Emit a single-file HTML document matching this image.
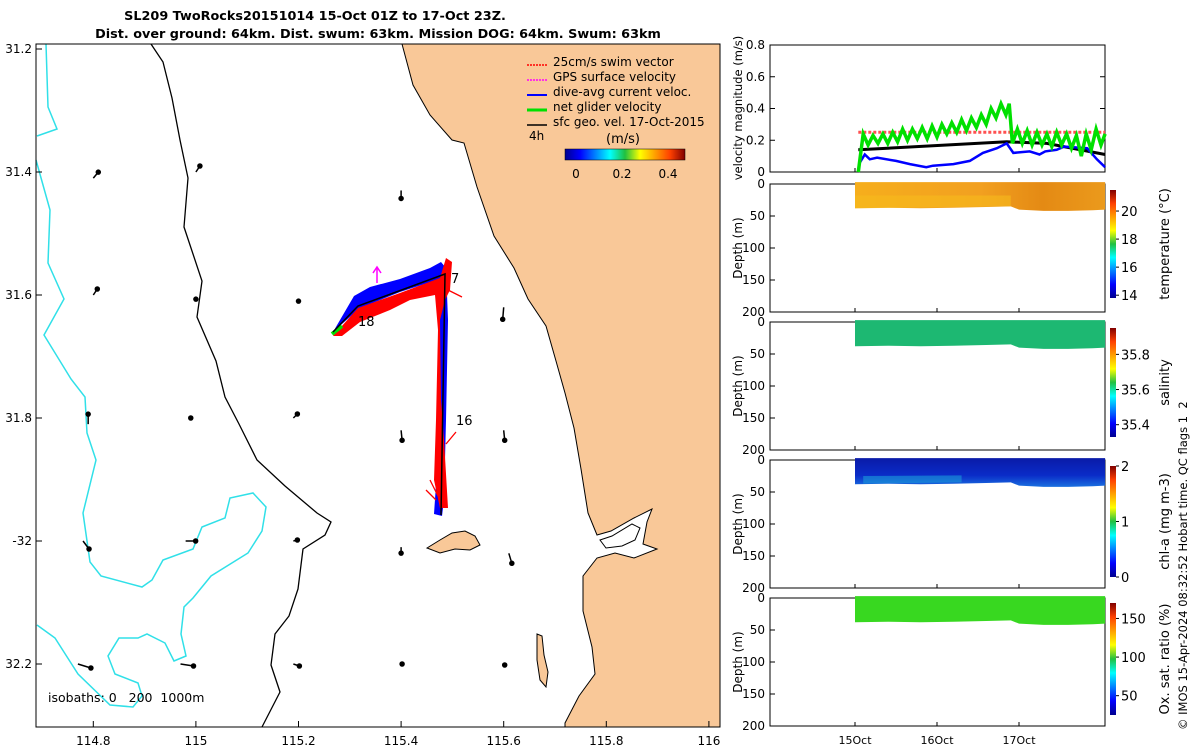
<!DOCTYPE html>
<html><head><meta charset="utf-8"><style>
body{margin:0;background:#fff;}
svg{display:block;font-family:"DejaVu Sans","Liberation Sans",sans-serif;}
</style></head><body>
<svg id="root" width="1200" height="750" viewBox="0 0 1200 750">
<defs>
<linearGradient id="jetV" x1="0" y1="1" x2="0" y2="0">
<stop offset="0" stop-color="#00008f"/><stop offset="0.125" stop-color="#0000ff"/><stop offset="0.375" stop-color="#00ffff"/><stop offset="0.5" stop-color="#20c040"/><stop offset="0.625" stop-color="#ffff00"/><stop offset="0.875" stop-color="#ff4000"/><stop offset="1" stop-color="#800000"/>
</linearGradient>
<linearGradient id="jetH" x1="0" y1="0" x2="1" y2="0">
<stop offset="0" stop-color="#00008f"/><stop offset="0.125" stop-color="#0000ff"/><stop offset="0.375" stop-color="#00ffff"/><stop offset="0.5" stop-color="#20c040"/><stop offset="0.625" stop-color="#ffff00"/><stop offset="0.875" stop-color="#ff4000"/><stop offset="1" stop-color="#800000"/>
</linearGradient>
<linearGradient id="tempG" x1="0" y1="0" x2="1" y2="0"><stop offset="0" stop-color="#f6ae1c"/><stop offset="0.5" stop-color="#f2a020"/><stop offset="0.75" stop-color="#e48a14"/><stop offset="1" stop-color="#eb9a1c"/></linearGradient>
<linearGradient id="chlG" x1="0" y1="0" x2="0" y2="1"><stop offset="0" stop-color="#0a1aa8"/><stop offset="0.6" stop-color="#0a2cc8"/><stop offset="1" stop-color="#1a70e0"/></linearGradient>
</defs>

<g font-weight="bold" font-size="12.8" text-anchor="middle">
<text x="315" y="20">SL209 TwoRocks20151014 15-Oct 01Z to 17-Oct 23Z.</text>
<text x="378" y="38">Dist. over ground: 64km. Dist. swum: 63km. Mission DOG: 64km. Swum: 63km</text>
</g>

<g>
<rect x="36" y="44" width="684" height="683" fill="#fff"/>
<path fill="#f9c898" stroke="#000" stroke-width="1" d="M402,44 L413,85 L430,115 L452,140 L464,143 L477,187 L494,236 L514,268 L528,299 L546,326 L556,361 L565,393 L574,428 L581,469 L588,513 L597,535 L611,531 L634,518 L652,509 L647,522 L643,544 L657,549 L634,558 L615,553 L597,558 L583,576 L583,611 L592,647 L595,674 L579,696 L565,723 L565,727 L720,727 L720,44 Z"/>
<path fill="#fff" stroke="#000" d="M600,540 L612,536 L632,524 L640,528 L635,540 L622,546 L606,548 Z"/>
<path fill="#f9c898" stroke="#000" d="M427,548 L440,540 L452,533 L465,531 L475,536 L480,545 L470,550 L455,549 L440,553 Z"/>
<path fill="#f9c898" stroke="#000" d="M537,634 L542,636 L544,655 L548,672 L546,687 L540,680 L537,660 Z"/>
<path fill="none" stroke="#000" stroke-width="1.3" d="M151,44 L163,62 L172,98 L180,140 L188,178 L184,227 L202,281 L197,317 L216,361 L225,397 L239,424 L257,460 L285,486 L317,513 L331,522 L325,535 L303,549 L298,589 L289,616 L275,634 L271,665 L280,692 L262,727"/>
<path fill="none" stroke="#30e0e8" stroke-width="1.5" d="M46,44 L48,107 L57,129 L37,136"/>
<path fill="none" stroke="#30e0e8" stroke-width="1.5" d="M36,160 L50,210 L48,263 L64,299 L44,335 L71,379 L85,397 L87,433 L96,460 L83,513 L90,562 L101,576 L142,587 L152,580 L163,560 L193,549 L202,527 L225,518 L230,498 L253,493 L266,507 L262,531 L248,553 L211,576 L193,598 L184,607 L181,634 L186,656 L174,661 L165,643 L147,634 L138,638 L119,638 L108,656 L115,674 L138,683 L142,696 L133,707 L110,705 L78,674 L55,638 L37,625"/>
<g id="arrows" stroke="#000" stroke-width="1.5" fill="#000"></g>
<path fill="#0000ff" d="M333,332 L354,296 L370,287 L400,279 L430,268 L441,262 L446,268 L448,320 L446,420 L444,500 L442,516 L434,514 L437,470 L440,320 L440,279 L400,292 L360,308 Z"/>
<path fill="#ff0000" d="M333,336 L358,308 L400,293 L440,278 L446,258 L452,262 L450,290 L445,300 L440,320 L441,400 L444,440 L448,508 L440,508 L434,480 L436,420 L438,330 L435,295 L410,300 L390,310 L360,322 L342,336 Z"/>
<path fill="none" stroke="#00e000" stroke-width="4" d="M332,334 L342,326"/>
<path fill="none" stroke="#000" stroke-width="1.5" d="M333,332 L358,306 L445,274 L441,515"/>
<path stroke="#ff00ff" stroke-width="1.5" fill="none" d="M377,283 L377,268 M373,273 L377,267 L381,273"/>
<path stroke="#ff0000" stroke-width="1.3" fill="none" d="M448,290 L462,297 M456,432 L446,444 M430,480 L438,496 M426,490 L436,500"/>
<text x="358" y="326" font-size="13">18</text>
<text x="451" y="283" font-size="13">7</text>
<text x="456" y="425" font-size="13">16</text>
<text x="48" y="702" font-size="12.5" xml:space="preserve">isobaths: 0   200  1000m</text>
<g font-size="12">
<line x1="527" y1="65" x2="547" y2="65" stroke="#ff0000" stroke-dasharray="2,1" stroke-width="1.5"/><text x="553" y="66">25cm/s swim vector</text>
<line x1="527" y1="80" x2="547" y2="80" stroke="#ff00ff" stroke-dasharray="2,1" stroke-width="1.5"/><text x="553" y="81">GPS surface velocity</text>
<line x1="527" y1="95" x2="547" y2="95" stroke="#0000ff" stroke-width="2"/><text x="553" y="96">dive-avg current veloc.</text>
<line x1="527" y1="110" x2="547" y2="110" stroke="#00e000" stroke-width="3"/><text x="553" y="111">net glider velocity</text>
<line x1="527" y1="125" x2="547" y2="125" stroke="#000" stroke-width="1.5"/><text x="553" y="126">sfc geo. vel. 17-Oct-2015</text>
<text x="529" y="140">4h</text>
<text x="606" y="143" font-size="13">(m/s)</text>
<rect x="565" y="149" width="120" height="11" fill="url(#jetH)" stroke="#000" stroke-width="0.5"/>
<text x="576" y="178" text-anchor="middle">0</text><text x="622" y="178" text-anchor="middle">0.2</text><text x="668" y="178" text-anchor="middle">0.4</text>
</g>
<rect x="36" y="44" width="684" height="683" fill="none" stroke="#000" stroke-width="1"/>
<g id="mapTicks" font-size="12"></g>
</g>

<g id="velPanel"></g>
<g id="sections"></g>
<text transform="translate(1187,730) rotate(-90)" font-size="11.5" xml:space="preserve">© IMOS 15-Apr-2024 08:32:52 Hobart time. QC flags 1  2</text>
</svg>
<script>
const lonTicks=[114.8,115,115.2,115.4,115.6,115.8,116];
const latTicks=[31.2,31.4,31.6,31.8,32,32.2];
const latLabels=["31.2","31.4","31.6","31.8","-32","32.2"];
const arrLon=[114.8,115,115.4,114.8,115,115.2,115.6,114.79,114.99,115.19,115.4,115.6,114.78,114.98,115.19,115.4,115.61,114.77,114.97,115.19,115.4,115.6];
const arrLat=[31.41,31.40,31.43,31.60,31.61,31.61,31.62,31.81,31.80,31.80,31.82,31.82,32.00,32.00,32.00,32.01,32.02,32.20,32.20,32.20,32.20,32.20];
const arrU=[0.05,0.04,0,0.04,0.0,0,-0.01,0,0,0.04,0.01,0.01,0.06,0.1,0.04,0,0.03,0.13,0.13,0.06,0.01,0.01];
const arrV=[0.06,0.06,-0.08,0.06,0.02,0,-0.12,0.1,0,0.04,-0.1,-0.1,-0.08,0,0.01,-0.06,-0.1,-0.04,-0.02,-0.02,0,-0.01];

const NS='http://www.w3.org/2000/svg';
function mk(t,a,p){const e=document.createElementNS(NS,t);for(const k in a)e.setAttribute(k,a[k]);(p||document.getElementById('root')).appendChild(e);return e;}
const lonX=l=>42+(l-114.7)*513;
const latY=l=>49+(l-31.2)*615;

const mt=document.getElementById('mapTicks');
lonTicks.forEach(l=>{const x=lonX(l);
 const tk=mk('line',{x1:x,y1:727,x2:x,y2:721,stroke:'#000'},mt);
 
 
 const t=mk('text',{x:x,y:745,'text-anchor':'middle'},mt);t.textContent=String(l);
 
 });
latTicks.forEach((l,i)=>{const y=latY(l);
 mk('line',{x1:36,y1:y,x2:42,y2:y,stroke:'#000'},mt);
 const t=mk('text',{x:32,y:y+4,'text-anchor':'end'},mt);t.textContent=latLabels[i];
 
 });
const ag=document.getElementById('arrows');
arrLon.forEach((l,i)=>{const x=lonX(l),y=latY(arrLat[i]);const s=100;
 const x2=x+arrU[i]*s,y2=y-arrV[i]*s;
 const ln=mk('line',{x1:x,y1:y,x2:x2,y2:y2},ag);
 
 
 mk('circle',{cx:x2,cy:y2,r:2},ag);});

const gT=[0.04,0.10,0.16,0.22,0.28,0.34,0.40,0.46,0.52,0.58,0.64,0.70,0.76,0.82,0.88,0.94,1.00,1.06,1.12,1.18,1.24,1.30,1.36,1.42,1.48,1.54,1.60,1.66,1.72,1.78,1.84,1.88,1.92,1.98,2.04,2.10,2.16,2.22,2.28,2.34,2.40,2.46,2.52,2.58,2.64,2.70,2.76,2.82,2.88,2.94,3.00,3.05];
const gV=[0.00,0.24,0.17,0.23,0.18,0.24,0.18,0.25,0.19,0.27,0.20,0.27,0.21,0.28,0.21,0.29,0.22,0.30,0.24,0.31,0.25,0.33,0.26,0.34,0.28,0.36,0.30,0.40,0.34,0.43,0.36,0.43,0.18,0.27,0.18,0.26,0.17,0.25,0.17,0.24,0.16,0.25,0.17,0.24,0.15,0.23,0.10,0.24,0.14,0.27,0.17,0.24];
const bT=[0.06,0.12,0.18,0.27,0.5,0.67,0.87,0.95,1.2,1.4,1.56,1.73,1.85,1.93,2.13,2.25,2.32,2.46,2.55,2.83,2.95,3.05];
const bV=[0.06,0.11,0.08,0.09,0.07,0.05,0.03,0.04,0.05,0.07,0.12,0.15,0.18,0.12,0.13,0.11,0.13,0.14,0.16,0.15,0.08,0.03];
const kT=[0.04,1.85,2.34,3.05];
const kV=[0.14,0.19,0.18,0.11];
const rT=[0.04,3.05];
const rV=[0.25,0.25];
const vTicks=[0,0.2,0.4,0.6,0.8];
const dayTicks=[0,1,2];
const dayLabels=["15Oct","16Oct","17Oct"];
const tX=t=>855+t*82;
const vY=v=>172-v*158.75;
const vp=document.getElementById('velPanel');
mk('rect',{x:770,y:45,width:335,height:127,fill:'#fff',stroke:'#000'},vp);
vTicks.forEach(v=>{const y=vY(v);mk('line',{x1:770,y1:y,x2:775,y2:y,stroke:'#000'},vp);mk('line',{x1:1105,y1:y,x2:1100,y2:y,stroke:'#000'},vp);
 const t=mk('text',{x:765,y:y+4,'text-anchor':'end','font-size':12},vp);t.textContent=v===0?'0':String(v);});
const vl=mk('text',{transform:'translate(742,108) rotate(-90)','text-anchor':'middle','font-size':11.5},vp);vl.textContent='velocity magnitude (m/s)';


function line(T,V,attrs,name){const d=T.map((t,i)=>(i?'L':'M')+tX(t).toFixed(1)+','+vY(V[i]).toFixed(1)).join(' ');
 const p=mk('path',Object.assign({d:d,fill:'none'},attrs),vp);
 
 }
line(rT,rV,{stroke:'#ff5050','stroke-width':3,'stroke-dasharray':'3,2'},'swim-speed-line');
line(kT,kV,{stroke:'#000','stroke-width':3},'geo-velocity-line');
line(bT,bV,{stroke:'#0000ff','stroke-width':2.5},'current-velocity-line');
line(gT,gV,{stroke:'#00e000','stroke-width':3.5},'glider-velocity-line');

const secT=[0.0,0.4,0.8,1.2,1.6,1.9,2.0,2.3,2.6,2.9,3.05];
const secDepth=[38,37,38,37,36,35,40,42,42,41,40];
const depthTicks=[0,50,100,150,200];
const panels=[
 {y:184,fill:'url(#tempG)',cb:[190,298],ticks:[14,16,18,20],lo:13.8,hi:21.5,title:'temperature (°C)',name:'temperature'},
 {y:322,fill:'#1db872',cb:[328,437],ticks:[35.4,35.6,35.8],lo:35.33,hi:35.95,title:'salinity',name:'salinity'},
 {y:460,fill:'url(#chlG)',cb:[466,577],ticks:[0,1,2],lo:0,hi:2,title:'chl-a (mg m-3)',name:'chlorophyll'},
 {y:598,fill:'#38d820',cb:[603,715],ticks:[50,100,150],lo:25,hi:170,title:'Ox. sat. ratio (%)',name:'oxygen'}];
const sg=document.getElementById('sections');
panels.forEach((P,pi)=>{
 const g=mk('g',{},sg);
 
 
 const dY=d=>P.y+d*0.64;
 mk('rect',{x:770,y:P.y,width:335,height:128,fill:'#fff',stroke:'#000'},g);
 let d='M'+tX(secT[0])+','+dY(-3);
 secT.forEach(t=>{d+=' L'+tX(t).toFixed(1)+','+dY(-3)});
 for(let i=secT.length-1;i>=0;i--)d+=' L'+tX(secT[i]).toFixed(1)+','+dY(secDepth[i]).toFixed(1);
 const p=mk('path',{d:d+'Z',fill:P.fill},g);
 
 
 if(pi===2){mk('path',{d:'M'+tX(0.1)+','+dY(25)+' L'+tX(1.3)+','+dY(24)+' L'+tX(1.3)+','+dY(35)+' L'+tX(0.1)+','+dY(37)+'Z',fill:'#1a9ad8',opacity:0.6},g);}
 if(pi===0){mk('path',{d:'M'+tX(0.0)+','+dY(18)+' L'+tX(1.9)+','+dY(18)+' L'+tX(1.9)+','+dY(35)+' L'+tX(0)+','+dY(38)+'Z',fill:'#f7bb1c',opacity:0.6},g);}
 depthTicks.forEach(v=>{const y=dY(v);mk('line',{x1:770,y1:y,x2:775,y2:y,stroke:'#000'},g);
  const t=mk('text',{x:765,y:y+4,'text-anchor':'end','font-size':12},g);t.textContent=String(v);});
 const yl=mk('text',{transform:'translate(742,'+(P.y+64)+') rotate(-90)','text-anchor':'middle','font-size':12},g);yl.textContent='Depth (m)';
 mk('rect',{x:1110,y:P.cb[0],width:6,height:P.cb[1]-P.cb[0],fill:'url(#jetV)'},g);
 P.ticks.forEach(v=>{const y=P.cb[1]-(v-P.lo)/(P.hi-P.lo)*(P.cb[1]-P.cb[0]);
  mk('line',{x1:1116,y1:y,x2:1119,y2:y,stroke:'#000'},g);
  const t=mk('text',{x:1121,y:y+5,'font-size':13},g);t.textContent=String(v);});
 const ct=mk('text',{transform:'translate(1169,'+((P.cb[0]+P.cb[1])/2)+') rotate(-90)','text-anchor':'middle','font-size':13},g);ct.textContent=P.title;
});
dayTicks.forEach((t,i)=>{const x=tX(t);
 [45,184,322,460,598].forEach(y0=>{const y1=(y0===45?172:y0+128);mk('line',{x1:x,y1:y1,x2:x,y2:y1-4,stroke:'#000'},sg);});
 const tx=mk('text',{x:x,y:744,'text-anchor':'middle','font-size':11},sg);tx.textContent=dayLabels[i];
 
 });
</script>
</body></html>
